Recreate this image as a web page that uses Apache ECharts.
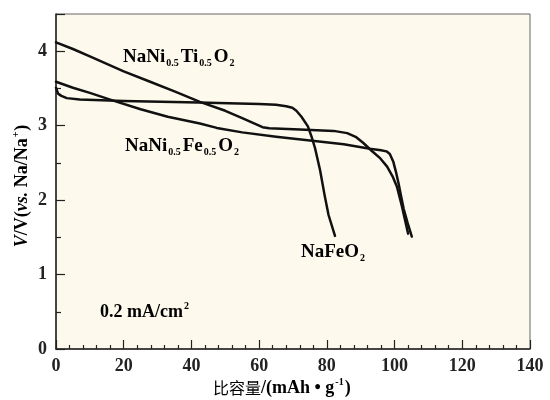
<!DOCTYPE html>
<html>
<head>
<meta charset="utf-8">
<script src="https://cdn.jsdelivr.net/npm/echarts@6/dist/echarts.min.js"></script>
<style>
  html, body { margin: 0; padding: 0; background: #fff; }
  #main { width: 550px; height: 400px; }
</style>
</head>
<body>
<div id="main"></div>
<script>
// 比容量 (mAh/g) 与 电压 (V) 读数
var tiCapacity = [0, 5, 10, 15, 20, 27.8, 35, 42.5, 50, 55, 59, 61, 63, 72, 82, 86, 88.5, 90.7, 93.3, 95.8, 97.8, 99.4, 100.7, 102.2, 104];
var tiVoltage  = [4.12, 4.03, 3.93, 3.83, 3.73, 3.59, 3.46, 3.32, 3.2, 3.1, 3.02, 2.98, 2.965, 2.95, 2.93, 2.9, 2.85, 2.77, 2.66, 2.56, 2.45, 2.32, 2.18, 1.91, 1.55];

var feCapacity = [0, 5, 10, 16, 25, 33, 42.5, 47.5, 55, 65, 77, 85, 92.7, 96, 97.6, 98.6, 99.6, 100.4, 101.2, 101.9, 102.7, 103.8, 105.1];
var feVoltage  = [3.59, 3.51, 3.44, 3.35, 3.22, 3.12, 3.03, 2.97, 2.91, 2.85, 2.79, 2.75, 2.69, 2.67, 2.655, 2.62, 2.52, 2.38, 2.22, 2.06, 1.88, 1.7, 1.51];

var nfoCapacity = [0, 0.6, 1.6, 3.2, 7, 20, 42, 60, 65, 68, 69.8, 71, 72.5, 74.4, 75.5, 76.5, 78, 79.4, 80.5, 82.4];
var nfoVoltage  = [3.51, 3.43, 3.4, 3.37, 3.35, 3.33, 3.31, 3.29, 3.28, 3.26, 3.24, 3.2, 3.12, 2.99, 2.85, 2.7, 2.4, 2.05, 1.8, 1.52];

var xTicks = [0, 20, 40, 60, 80, 100, 120, 140];
var yTicks = [0, 1, 2, 3, 4];

function zip(xs, ys) {
  var out = [];
  for (var i = 0; i < xs.length; i++) {
    out.push([xs[i], ys[i]]);
  }
  return out;
}

var serif = '"Liberation Serif", "DejaVu Serif", serif';
var rich = {
  n: { fontFamily: serif, fontWeight: 'bold', fontSize: 18, lineHeight: 22, color: '#222' },
  L: { fontFamily: serif, fontWeight: 'bold', fontSize: 19, lineHeight: 22, color: '#222' },
  i: { fontFamily: serif, fontWeight: 'bold', fontStyle: 'italic', fontSize: 18, lineHeight: 22, color: '#222' },
  sub: { fontFamily: serif, fontWeight: 'bold', fontSize: 10, lineHeight: 8, verticalAlign: 'bottom', padding: [0, 2, 0, 1], color: '#222' },
  sup: { fontFamily: serif, fontWeight: 'bold', fontSize: 10, lineHeight: 8, verticalAlign: 'top', padding: [0, 1, 0, 1], color: '#222' },
  c: { fontFamily: '"Noto Sans CJK SC", sans-serif', fontSize: 16, lineHeight: 22, color: '#444' }
};

var myChart = echarts.init(document.getElementById('main'));
var option;

var lineSeries = function (name, data) {
  return {
    name: name,
    type: 'line',
    data: data,
    showSymbol: false,
    smooth: false,
    lineStyle: { color: '#111', width: 2.5, join: 'round', cap: 'round' }
  };
};

option = {
  backgroundColor: '#fff',
  animation: false,
  grid: {
    left: 56, right: 20, top: 14, bottom: 51,
    show: true,
    backgroundColor: '#fdf9ec',
    borderColor: '#666',
    borderWidth: 1
  },
  xAxis: {
    type: 'value',
    min: xTicks[0],
    max: xTicks[xTicks.length - 1],
    interval: 20,
    axisLine: { show: true, onZero: false, lineStyle: { color: '#222', width: 1.5 } },
    axisTick: { inside: true, length: 9, lineStyle: { color: '#222', width: 1.2 } },
    minorTick: { show: true, splitNumber: 5, length: 4, lineStyle: { color: '#222', width: 1.2 } },
    splitLine: { show: false },
    axisLabel: { margin: 8, fontFamily: serif, fontWeight: 'bold', fontSize: 18, color: '#222' }
  },
  yAxis: {
    type: 'value',
    min: 0,
    max: 4.5,
    interval: 1,
    axisLine: { show: true, onZero: false, lineStyle: { color: '#222', width: 1.5 } },
    axisTick: { inside: true, length: 9, lineStyle: { color: '#222', width: 1.2 } },
    minorTick: { show: true, splitNumber: 2, length: 5, lineStyle: { color: '#222', width: 1.2 } },
    splitLine: { show: false },
    axisLabel: {
      margin: 9, fontFamily: serif, fontWeight: 'bold', fontSize: 18, color: '#222',
      formatter: function (v) { return yTicks.indexOf(v) >= 0 ? String(v) : ''; }
    }
  },
  graphic: [
    {
      type: 'text', left: 123, top: 48,
      style: { text: '{L|NaNi}{sub|0.5}{L|Ti}{sub|0.5}{L|O}{sub|2}', rich: rich }
    },
    {
      type: 'text', left: 125, top: 137,
      style: { text: '{L|NaNi}{sub|0.5}{L|Fe}{sub|0.5}{L|O}{sub|2}', rich: rich }
    },
    {
      type: 'text', left: 301, top: 243,
      style: { text: '{L|NaFeO}{sub|2}', rich: rich }
    },
    {
      type: 'text', left: 100, top: 301,
      style: { text: '{n|0.2 mA/cm}{sup|2}', rich: rich }
    },
    {
      type: 'text', left: 213, top: 377,
      style: { text: '{c|比容量}{n|/(mAh • g}{sup|-1}{n|)}', rich: rich }
    },
    {
      type: 'text', x: 22, y: 186, rotation: Math.PI / 2,
      style: {
        text: '{i|V}{n|/V(}{i|vs.}{n| Na/Na}{sup|+}{n|)}', rich: rich,
        align: 'center', verticalAlign: 'middle'
      }
    }
  ],
  series: [
    lineSeries('NaNi0.5Ti0.5O2', zip(tiCapacity, tiVoltage)),
    lineSeries('NaNi0.5Fe0.5O2', zip(feCapacity, feVoltage)),
    lineSeries('NaFeO2', zip(nfoCapacity, nfoVoltage))
  ]
};

option && myChart.setOption(option);
</script>
</body>
</html>
